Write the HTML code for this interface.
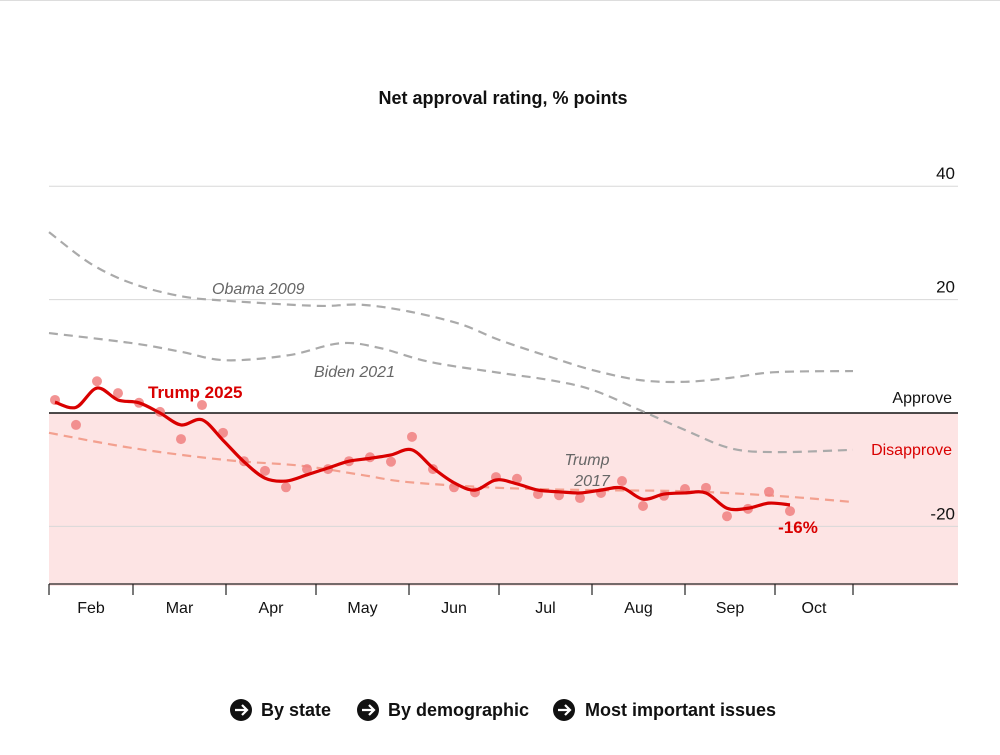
<!DOCTYPE html>
<html><head><meta charset="utf-8"><style>
body{margin:0;background:#fff;font-family:"Liberation Sans",sans-serif}
svg{display:block}
</style></head><body>
<svg width="1000" height="755">
<line x1="0" y1="0.5" x2="1000" y2="0.5" stroke="#ddd"/>
<text x="503" y="104" text-anchor="middle" font-size="18" font-weight="bold" fill="#111">Net approval rating, % points</text>
<g id="plot"></g>
<g><circle cx="241" cy="710" r="11" fill="#111"/><path d="M235 710h11M242 705l5 5-5 5" stroke="#fff" stroke-width="2.2" fill="none"/><text x="261" y="716" font-size="18" font-weight="bold" fill="#111">By state</text></g>
<g><circle cx="368" cy="710" r="11" fill="#111"/><path d="M362 710h11M369 705l5 5-5 5" stroke="#fff" stroke-width="2.2" fill="none"/><text x="388" y="716" font-size="18" font-weight="bold" fill="#111">By demographic</text></g>
<g><circle cx="564" cy="710" r="11" fill="#111"/><path d="M558 710h11M565 705l5 5-5 5" stroke="#fff" stroke-width="2.2" fill="none"/><text x="585" y="716" font-size="18" font-weight="bold" fill="#111">Most important issues</text></g>
</svg>
<script>
const yTicks=[40,20,-20];
const months=["Feb","Mar","Apr","May","Jun","Jul","Aug","Sep","Oct"];
const monthStartDays=[0,28,59,89,120,150,181,212,242,268];
const pollDays=[2,9,16,23,30,37,44,51,58,65,72,79,86,93,100,107,114,121,128,135,142,149,156,163,170,177,184,191,198,205,212,219,226,233,240,247];
const pollValues=[2.3,-2.1,5.6,3.5,1.8,0.2,-4.6,1.4,-3.5,-8.5,-10.2,-13.1,-9.9,-9.9,-8.5,-7.8,-8.6,-4.2,-9.9,-13.1,-14,-11.3,-11.6,-14.3,-14.5,-15,-14.1,-12,-16.4,-14.6,-13.4,-13.2,-18.2,-16.9,-13.9,-17.3];
const trendValues=[1.9,1,4.4,2.3,1.8,0,-2.1,-1.2,-4.8,-8.6,-11.5,-12,-10.9,-9.7,-8.5,-8,-7.4,-6.5,-9.7,-12.3,-13.6,-11.8,-12.5,-13.6,-13.9,-14.1,-13.6,-13.2,-15.2,-14.3,-14.1,-14.1,-16.8,-16.8,-15.9,-16.2];
const refDays=[0,14,28,44,59,89,104,120,137,150,167,181,197,212,227,242,268];
const obamaValues=[31.9,26.3,22.8,20.6,19.8,18.9,19.1,17.9,15.7,12.9,9.9,7.6,5.8,5.5,6.2,7.2,7.4];
const bidenDays=[0,28,44,59,80,97,110,127,150,167,181,197,212,227,242,268];
const bidenValues=[14.1,12.3,10.8,9.3,10.2,12.3,11.5,9,7.1,5.8,4.1,0.5,-3,-6.2,-6.9,-6.5];
const t17Days=[0,28,59,84,104,120,150,181,212,242,268];
const t17Values=[-3.5,-6.2,-8.3,-9.3,-10.9,-12.2,-13.2,-13.6,-13.8,-14.6,-15.7];
const NS="http://www.w3.org/2000/svg";
const g=document.getElementById("plot");
const X=d=>49+3*d, Y=v=>413-5.67*v;
function mk(t,a,p){const e=document.createElementNS(NS,t);for(const k in a)e.setAttribute(k,a[k]);(p||g).appendChild(e);return e;}
function smooth(xs,ys){let d="M"+X(xs[0])+" "+Y(ys[0]);for(let i=0;i<xs.length-1;i++){const p0=i?i-1:i,p3=i+2<xs.length?i+2:i+1;
const x1=X(xs[i])+(X(xs[i+1])-X(xs[p0]))/6,y1=Y(ys[i])+(Y(ys[i+1])-Y(ys[p0]))/6,x2=X(xs[i+1])-(X(xs[p3])-X(xs[i]))/6,y2=Y(ys[i+1])-(Y(ys[p3])-Y(ys[i]))/6;
d+=` C${x1} ${y1} ${x2} ${y2} ${X(xs[i+1])} ${Y(ys[i+1])}`;}return d;}
let e;
e=mk("rect",{x:49,y:Y(0),width:909,height:Y(-30.5)-Y(0),fill:"#fde4e4"});


yTicks.forEach(v=>{e=mk("line",{x1:49,x2:958,y1:Y(v),y2:Y(v),stroke:"#d8d8d8"});


e=mk("text",{x:955,y:Y(v)-7,"text-anchor":"end","font-size":17,fill:"#111"});e.textContent=v;

});
e=mk("line",{x1:49,x2:958,y1:Y(0),y2:Y(0),stroke:"#111","stroke-width":1.5});


e=mk("line",{x1:49,x2:958,y1:584,y2:584,stroke:"#222","stroke-width":1.2});


monthStartDays.forEach(d=>{e=mk("line",{x1:X(d),x2:X(d),y1:584,y2:595,stroke:"#222","stroke-width":1.2});

});
months.forEach((m,i)=>{e=mk("text",{x:(X(monthStartDays[i])+X(monthStartDays[i+1]))/2,y:613,"text-anchor":"middle","font-size":16,fill:"#111"});e.textContent=m;

});
e=mk("path",{d:smooth(refDays,obamaValues),fill:"none",stroke:"#aaa","stroke-width":2.2,"stroke-dasharray":"9 6"});


e=mk("path",{d:smooth(bidenDays,bidenValues),fill:"none",stroke:"#aaa","stroke-width":2.2,"stroke-dasharray":"9 6"});


e=mk("path",{d:smooth(t17Days,t17Values),fill:"none",stroke:"#f3a08f","stroke-width":2.2,"stroke-dasharray":"9 6"});


pollDays.forEach((d,i)=>{e=mk("circle",{cx:X(d),cy:Y(pollValues[i]),r:5,fill:"#f08080",opacity:0.85});

});
e=mk("path",{d:smooth(pollDays,trendValues),fill:"none",stroke:"#d90000","stroke-width":3.2});


const labels=[["Obama 2009",212,294,"#666","italic","normal","start",16],["Biden 2021",314,377,"#666","italic","normal","start",16],["Trump",587,465,"#666","italic","normal","middle",16],["2017",592,486,"#666","italic","normal","middle",16],["Trump 2025",148,398,"#d90000","normal","bold","start",17],["Approve",952,403,"#111","normal","normal","end",16],["Disapprove",952,455,"#d90000","normal","normal","end",16],["-16%",798,533,"#d90000","normal","bold","middle",17]];
labels.forEach(l=>{e=mk("text",{x:l[1],y:l[2],fill:l[3],"font-style":l[4],"font-weight":l[5],"text-anchor":l[6],"font-size":l[7]});e.textContent=l[0];

});
</script>
</body></html>
